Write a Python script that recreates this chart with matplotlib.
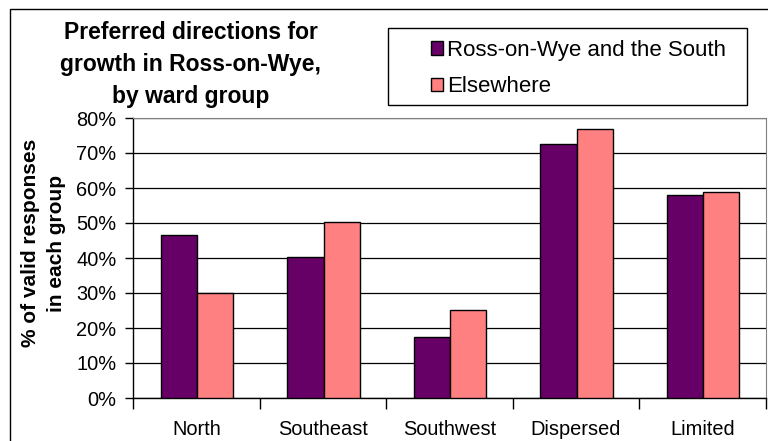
import matplotlib
matplotlib.use("Agg")
import matplotlib.pyplot as plt
import numpy as np
from matplotlib.patches import Rectangle
from matplotlib.ticker import FuncFormatter, FixedLocator

# datos del grafico
categorias = ["North", "Southeast", "Southwest", "Dispersed", "Limited"]
ross_sur = [46.7, 40.3, 17.3, 72.7, 58.1]
otros = [30.1, 50.2, 25.1, 76.8, 58.9]
series = ["Ross-on-Wye and the South", "Elsewhere"]
colores = ["#660066", "#FF8080"]

plt.rcParams['font.family'] = ['Liberation Sans', 'DejaVu Sans']

fig = plt.figure(figsize=(7.68, 4.41), dpi=100)
ax = fig.add_axes([133 / 768, 1 - 398 / 441, 632.5 / 768, 280 / 441])

x = np.arange(len(categorias))
ancho = 0.285
ax.bar(x - ancho / 2 + 0.006, ross_sur, ancho, color=colores[0], edgecolor="black",
       linewidth=1, label=series[0], zorder=3)
ax.bar(x + ancho / 2 + 0.006, otros, ancho, color=colores[1], edgecolor="black",
       linewidth=1, label=series[1], zorder=3)

ax.set_xlim(-0.5, len(categorias) - 0.5)
ax.set_ylim(0, 80)
ax.set_yticks(np.arange(0, 81, 10))
ax.yaxis.set_major_formatter(FuncFormatter(lambda v, p: "%d%%" % v))
ax.grid(axis="y", color="black", linewidth=0.9)
ax.set_axisbelow(True)

ax.set_xticks(x)
ax.set_xticklabels(categorias)
ax.xaxis.set_minor_locator(FixedLocator(np.arange(-0.5, len(categorias), 1.0)))
ax.tick_params(axis="x", which="major", length=0, pad=16, labelsize=14.4)
ax.tick_params(axis="x", which="minor", length=8, width=1, direction="out", color="black")
ax.tick_params(axis="y", length=6, width=1, direction="out", pad=6, labelsize=14.4)

for lado in ["top", "right"]:
    ax.spines[lado].set_color("#808080")
for lado in ["left", "bottom"]:
    ax.spines[lado].set_color("black")
    ax.spines[lado].set_linewidth(1)

ax.set_ylabel("% of valid responses\nin each group", fontsize=15, fontweight="bold",
              linespacing=1.45)
ax.yaxis.set_label_coords(-0.106, 0.553)

# titulo
fig.text(191 / 768, 1 - 64.5 / 441, "Preferred directions for\ngrowth in Ross-on-Wye,\nby ward group",
         ha="center", va="center", fontsize=16.5, fontweight="bold", linespacing=1.5)

# marco de la leyenda
fig.patches.append(Rectangle((388 / 768, 1 - 105 / 441), 359 / 768, 77 / 441,
                             transform=fig.transFigure, fill=False, edgecolor="black", linewidth=1))
leg = fig.legend(loc="upper left", bbox_to_anchor=(413 / 768, 1 - 22 / 441), frameon=False,
                 fontsize=16, handlelength=0.55, handleheight=0.55, handletextpad=0.2,
                 labelspacing=0.7, borderpad=0.3)

# borde exterior
fig.patches.append(Rectangle((10 / 768, -0.05), 1.1, 1 - 9 / 441 + 0.05,
                             transform=fig.transFigure, fill=False, edgecolor="black", linewidth=1))

fig.savefig("out.png", dpi=100)
